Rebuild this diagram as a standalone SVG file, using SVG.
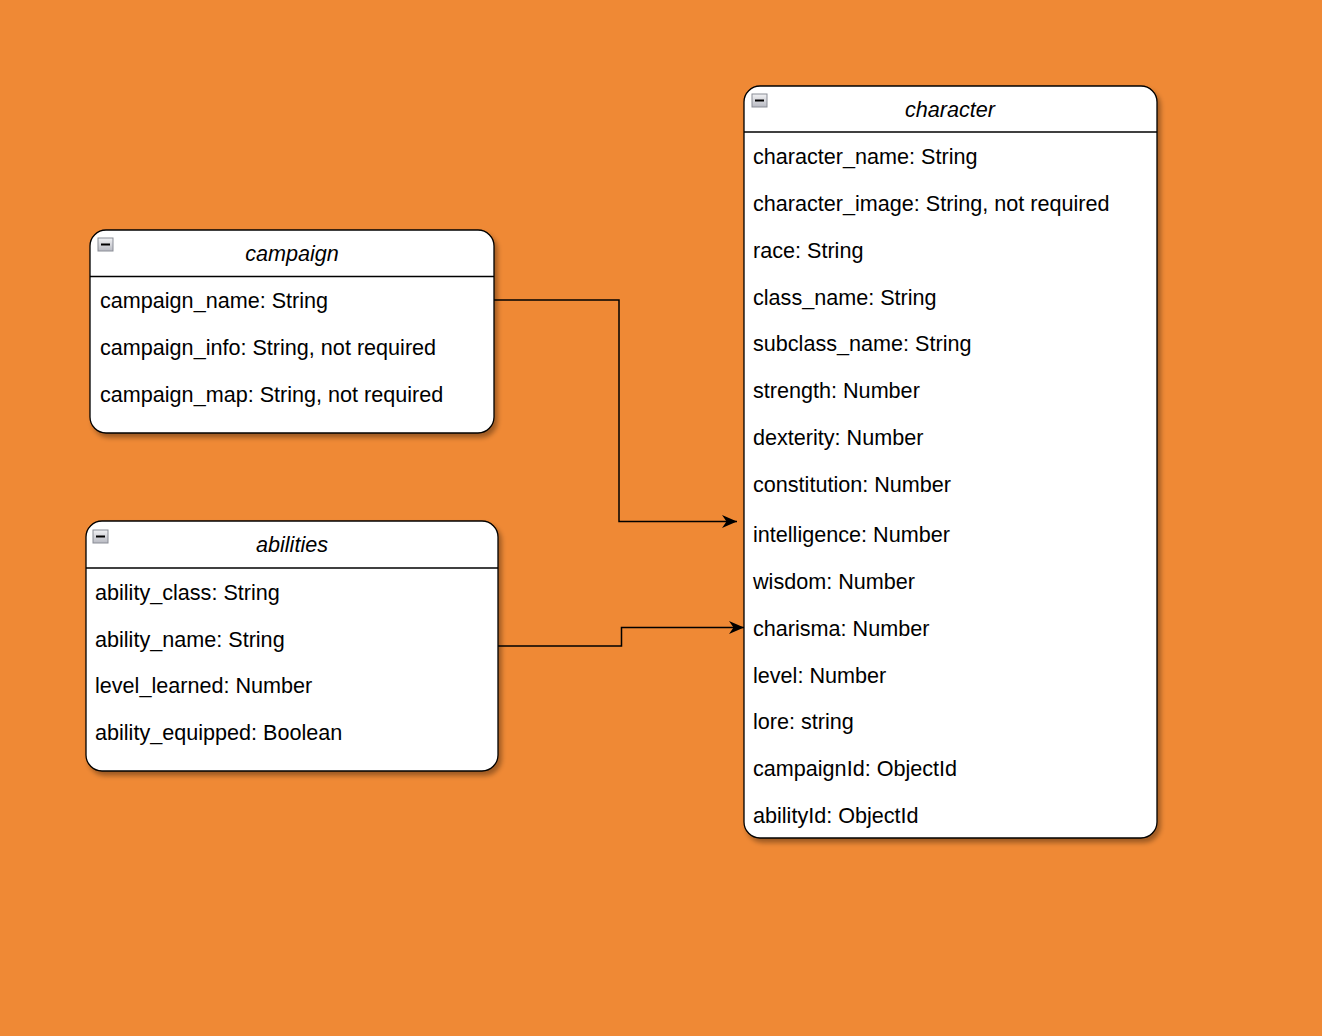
<svg xmlns="http://www.w3.org/2000/svg" width="1322" height="1036" viewBox="0 0 1322 1036">
<style>
.box{fill:#ffffff;stroke:#000000;stroke-width:1.3;filter:url(#sh)}
.sep{stroke:#000000;stroke-width:1.3}
.t{font-family:"Liberation Sans",Arial,sans-serif;font-size:21.6px;fill:#000000}
.h{font-family:"Liberation Sans",Arial,sans-serif;font-size:21.6px;font-style:italic;fill:#000000;text-anchor:middle}
.conn{fill:none;stroke:#000000;stroke-width:1.5}
</style>
<defs>
<filter id="sh" x="-10%" y="-10%" width="120%" height="120%">
<feGaussianBlur in="SourceAlpha" stdDeviation="2.5"/>
<feOffset dx="3" dy="4" result="b"/>
<feComponentTransfer><feFuncA type="linear" slope="0.35"/></feComponentTransfer>
<feMerge><feMergeNode/><feMergeNode in="SourceGraphic"/></feMerge>
</filter>
<linearGradient id="ig" x1="0" y1="0" x2="0" y2="1">
<stop offset="0" stop-color="#f2f2f4"/>
<stop offset="1" stop-color="#b8bac2"/>
</linearGradient>
<g id="icon">
<rect x="0" y="0" width="15" height="13" fill="url(#ig)" stroke="#8a8d96" stroke-width="1"/>
<line x1="3" y1="6.5" x2="12" y2="6.5" stroke="#000" stroke-width="2"/>
</g>
<marker id="arr" markerWidth="16" markerHeight="14" refX="15" refY="7" orient="auto" markerUnits="userSpaceOnUse">
<path d="M0,0.5 L15,7 L0,13.5 L4.5,7 Z" fill="#000"/>
</marker>
</defs>
<rect width="1322" height="1036" fill="#EF8935"/>

<g id="connectors">
<path class="conn" d="M494,300 H619 V521.5 H737" marker-end="url(#arr)"/>
<path class="conn" d="M498,646 H621.5 V627.5 H744" marker-end="url(#arr)"/>
</g>

<g id="campaign">
<rect class="box" x="90" y="230" width="404" height="203" rx="16" ry="16"/>
<line class="sep" x1="90" y1="276.5" x2="494" y2="276.5"/>
<use href="#icon" x="98" y="238"/>
<text class="h" x="292" y="261">campaign</text>
<text class="t" x="100" y="308">campaign_name: String</text>
<text class="t" x="100" y="355">campaign_info: String, not required</text>
<text class="t" x="100" y="402">campaign_map: String, not required</text>
</g>

<g id="abilities">
<rect class="box" x="86" y="521" width="412" height="250" rx="16" ry="16"/>
<line class="sep" x1="86" y1="568" x2="498" y2="568"/>
<use href="#icon" x="93" y="530"/>
<text class="h" x="292" y="552">abilities</text>
<text class="t" x="95" y="600">ability_class: String</text>
<text class="t" x="95" y="647">ability_name: String</text>
<text class="t" x="95" y="693">level_learned: Number</text>
<text class="t" x="95" y="740">ability_equipped: Boolean</text>
</g>

<g id="character">
<rect class="box" x="744" y="86" width="413" height="752" rx="16" ry="16"/>
<line class="sep" x1="744" y1="132" x2="1157" y2="132"/>
<use href="#icon" x="752" y="94"/>
<text class="h" x="950" y="117">character</text>
<text class="t" x="753" y="164">character_name: String</text>
<text class="t" x="753" y="211">character_image: String, not required</text>
<text class="t" x="753" y="258">race: String</text>
<text class="t" x="753" y="305">class_name: String</text>
<text class="t" x="753" y="351">subclass_name: String</text>
<text class="t" x="753" y="398">strength: Number</text>
<text class="t" x="753" y="445">dexterity: Number</text>
<text class="t" x="753" y="492">constitution: Number</text>
<text class="t" x="753" y="542">intelligence: Number</text>
<text class="t" x="753" y="589">wisdom: Number</text>
<text class="t" x="753" y="636">charisma: Number</text>
<text class="t" x="753" y="683">level: Number</text>
<text class="t" x="753" y="729">lore: string</text>
<text class="t" x="753" y="776">campaignId: ObjectId</text>
<text class="t" x="753" y="823">abilityId: ObjectId</text>
</g>
</svg>
